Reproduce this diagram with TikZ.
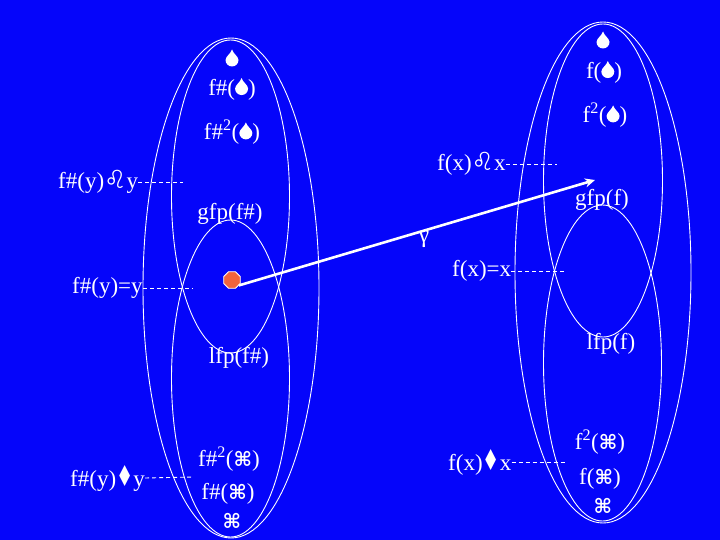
\documentclass[tikz,border=0pt]{standalone}
\usepackage{fontspec}
\setmainfont{Liberation Serif}
\newfontfamily\symfont{DejaVu Sans}
\usetikzlibrary{shapes.geometric,arrows.meta}
\newsavebox\dropbox
\newcommand{\mydrop}{\usebox\dropbox}
\newcommand{\mycmd}{{\symfont\bfseries\fontsize{20}{20}\selectfont ⌘}}
\newcommand{\myleo}{{\symfont\fontsize{25}{25}\selectfont ♌}}
\newcommand{\mydia}{{\symfont\fontsize{24}{24}\selectfont \scalebox{0.8}[1.2]{♦}}}
\definecolor{bg}{RGB}{5,5,250}
\definecolor{octo}{RGB}{242,100,60}
\tikzset{
  lbl/.style={text=white, inner sep=0pt, font=\fontsize{23}{23}\selectfont},
  ell/.style={draw=white, line width=0.9pt},
  dashline/.style={draw=white, line width=0.9pt, dash pattern=on 4pt off 3pt},
  arrowline/.style={draw=white, line width=2.6pt, -{Stealth[length=10pt,width=9pt]}},
}
\begin{document}
\savebox\dropbox{\pgfpicture
  \pgfsetfillcolor{white}%
  \pgfpathmoveto{\pgfpoint{0pt}{17pt}}%
  \pgfpathcurveto{\pgfpoint{1pt}{13pt}}{\pgfpoint{6.5pt}{10pt}}{\pgfpoint{6.5pt}{6.5pt}}%
  \pgfpatharc{0}{-180}{6.5pt}%
  \pgfpathcurveto{\pgfpoint{-6.5pt}{10pt}}{\pgfpoint{-1pt}{13pt}}{\pgfpoint{0pt}{17pt}}%
  \pgfpathclose
  \pgfusepath{fill}%
\endpgfpicture}%
\begin{tikzpicture}[x=1pt,y=-1pt]
\fill[bg] (0,0) rectangle (720,540);
\useasboundingbox (0,0) rectangle (720,540);
% left group ellipses
\draw[ell] (231,288) ellipse [x radius=88pt, y radius=250pt];
\draw[ell] (230.5,196.5) ellipse [x radius=59pt, y radius=156.5pt];
\draw[ell] (230.5,378.5) ellipse [x radius=59pt, y radius=158.5pt];
% right group ellipses
\draw[ell] (603,272.5) ellipse [x radius=88pt, y radius=250.5pt];
\draw[ell] (603,180.5) ellipse [x radius=59.5pt, y radius=156.5pt];
\draw[ell] (602.5,363) ellipse [x radius=59pt, y radius=158pt];
% left group labels
\node[lbl] (ltop) at (232,58) {\mydrop};
\node[lbl] (lf1) at (232,89) {f\#(\mydrop)};
\node[lbl] (lf2) at (232,132) {f\#\textsuperscript{2}(\mydrop)};
\node[lbl, anchor=west] (lpost) at (58,182) {f\#(y)\myleo y};
\node[lbl] (lgfp) at (230,214) {gfp(f\#)};
\node[lbl, anchor=west] (lfix) at (72,288) {f\#(y)=y};
\node[lbl] (llfp) at (239,358) {lfp(f\#)};
\node[lbl] (lb2) at (229,459) {f\#\textsuperscript{2}(\mycmd)};
\node[lbl, anchor=west] (lpre) at (70,478) {f\#(y)\mydia y};
\node[lbl] (lb1) at (228,494) {f\#(\mycmd)};
\node[lbl] (lbot) at (232,521) {\mycmd};
% right group labels
\node[lbl] (rtop) at (603,40) {\mydrop};
\node[lbl] (rf1) at (604,72) {f(\mydrop)};
\node[lbl] (rf2) at (605,115) {f\textsuperscript{2}(\mydrop)};
\node[lbl, anchor=west] (rpost) at (437,164) {f(x)\myleo x};
\node[lbl] (rgfp) at (602,200) {gfp(f)};
\node[lbl, anchor=west] (rfix) at (452,271) {f(x)=x};
\node[lbl] (rlfp) at (611,344) {lfp(f)};
\node[lbl] (rb2) at (600,442) {f\textsuperscript{2}(\mycmd)};
\node[lbl, anchor=west] (rpre) at (448,462) {f(x)\mydia x};
\node[lbl] (rb1) at (600,479) {f(\mycmd)};
\node[lbl] (rbot) at (603,506) {\mycmd};
% dashed pointers
\coordinate (dl1) at (183,182);
\coordinate (dl2) at (193,288);
\coordinate (dl3) at (193,477);
\coordinate (dr1) at (557,164);
\coordinate (dr2) at (567,271);
\coordinate (dr3) at (567,462);
\draw[dashline] (lpost.east) -- (dl1);
\draw[dashline] (lfix.east) -- (dl2);
\draw[dashline] (lpre.east) -- (dl3);
\draw[dashline] (rpost.east) -- (dr1);
\draw[dashline] (rfix.east) -- (dr2);
\draw[dashline] (rpre.east) -- (dr3);
% fixpoint and arrow
\node[regular polygon, regular polygon sides=8, minimum size=18pt, inner sep=0pt,
      fill=octo, draw=white, line width=0.8pt] (fp) at (232,280) {};
\coordinate (tip) at (595,180);
\draw[arrowline] (fp.-38) -- (tip);
\node[lbl, font=\fontsize{24}{24}\selectfont] (gam) at (424,240) {γ};
\end{tikzpicture}
\end{document}
